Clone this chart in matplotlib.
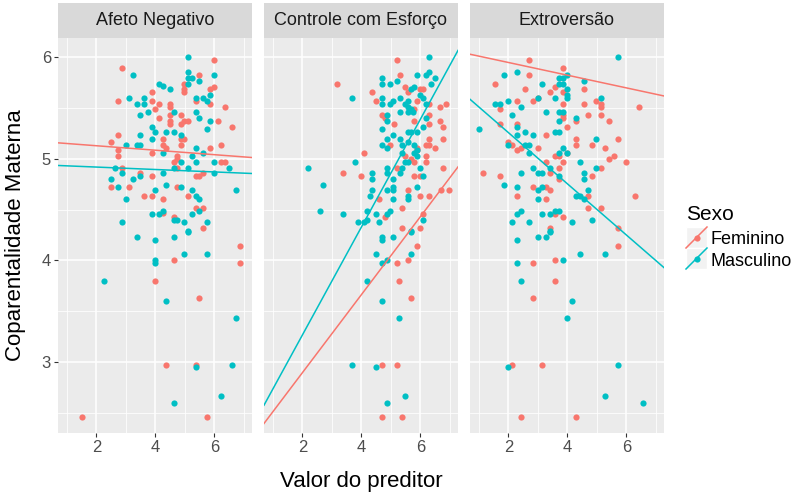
import numpy as np
import matplotlib.pyplot as plt

plt.rcParams['font.family'] = ['Liberation Sans', 'DejaVu Sans']

FEM = '#F8766D'
MASC = '#00BFC4'

paineis = ['Afeto Negativo', 'Controle com Esforço', 'Extroversão']
sexos = ['Feminino', 'Masculino']

# pontos (valor do preditor, coparentalidade)
afeto_fem = [
    (5.99, 5.97), (2.87, 5.89), (5.49, 5.83), (4.99, 5.74), (4.99, 5.69), (4.99, 5.66),
    (5.99, 5.71), (5.86, 5.69), (3.88, 5.66), (2.75, 5.57), (3.88, 5.57), (4.12, 5.54),
    (5.37, 5.57), (5.86, 5.54), (6.37, 5.51), (4.50, 5.54), (4.50, 5.51), (4.00, 5.49),
    (4.50, 5.43), (4.12, 5.40), (4.87, 5.43), (4.50, 5.37), (4.50, 5.34), (4.87, 5.34),
    (4.99, 5.37), (5.11, 5.37), (6.12, 5.37), (6.61, 5.31), (2.75, 5.23), (2.50, 5.17),
    (4.25, 5.20), (4.87, 5.20), (4.99, 5.20), (4.25, 5.14), (4.37, 5.11), (4.87, 5.14),
    (6.24, 5.14), (5.86, 5.11), (2.75, 5.09), (2.75, 5.03), (3.88, 5.06), (4.75, 5.03),
    (4.75, 5.00), (4.62, 4.97), (4.75, 4.91), (6.24, 4.97), (6.37, 4.97), (2.87, 4.91),
    (3.49, 4.86), (3.88, 4.83), (5.37, 4.83), (5.49, 4.83), (5.62, 4.86), (2.50, 4.72),
    (3.12, 4.72), (4.75, 4.72), (3.63, 4.63), (3.88, 4.63), (4.25, 4.60), (5.11, 4.63),
    (5.37, 4.52), (5.62, 4.52), (4.62, 4.43), (5.62, 4.32), (4.25, 4.47),
    (6.87, 4.14), (4.62, 4.00), (6.87, 3.97), (4.00, 3.80), (5.49, 3.63), (4.37, 2.97),
    (5.37, 2.97), (1.50, 2.46), (5.74, 2.46)]
afeto_masc = [
    (5.11, 6.00), (3.25, 5.83), (5.11, 5.86), (5.11, 5.80), (5.24, 5.80), (5.99, 5.83),
    (5.49, 5.77), (5.11, 5.74), (4.12, 5.74), (4.25, 5.72), (4.50, 5.69), (5.37, 5.60),
    (5.62, 5.60), (5.74, 5.57), (5.86, 5.63), (3.12, 5.60), (3.62, 5.60), (3.38, 5.54),
    (3.62, 5.54), (5.37, 5.46), (5.49, 5.40), (5.86, 5.37), (5.74, 5.29), (3.75, 5.46),
    (3.49, 5.43), (4.62, 5.46), (3.88, 5.31), (4.00, 5.26), (4.37, 5.26), (4.62, 5.26),
    (3.49, 5.23), (3.88, 5.20), (4.87, 5.23), (2.99, 5.14), (3.38, 5.14), (3.49, 5.14),
    (5.37, 5.11), (4.25, 5.06), (5.62, 5.06), (5.24, 5.03), (4.87, 4.97), (5.37, 4.97),
    (5.99, 4.97), (2.62, 4.91), (2.87, 4.86), (4.62, 4.91), (5.11, 4.91), (4.25, 4.86),
    (3.49, 4.83), (5.99, 4.86), (6.50, 4.91), (2.50, 4.80), (3.24, 4.80), (2.75, 4.72),
    (4.37, 4.74), (4.87, 4.72), (6.75, 4.69), (4.00, 4.69), (5.24, 4.69), (5.37, 4.63),
    (5.49, 4.60), (2.99, 4.60), (4.25, 4.49), (3.88, 4.46), (4.12, 4.46), (5.24, 4.46),
    (5.49, 4.49), (4.62, 4.40), (4.75, 4.40), (2.87, 4.38), (4.99, 4.38), (5.74, 4.38),
    (5.11, 4.29), (3.38, 4.23), (4.00, 4.20), (4.62, 4.23), (5.11, 4.28), (4.99, 4.06),
    (5.74, 4.06), (4.00, 4.00), (4.00, 3.97), (2.25, 3.80), (4.37, 3.60), (6.75, 3.43),
    (5.37, 2.95), (6.61, 2.97), (6.24, 2.66), (4.62, 2.60)]

controle_fem = [
    (5.20, 5.97), (5.30, 5.83), (3.19, 5.74), (5.49, 5.71), (5.59, 5.66), (5.99, 5.69),
    (6.09, 5.69), (4.38, 5.66), (4.49, 5.57), (5.89, 5.57), (5.80, 5.49), (6.28, 5.54),
    (6.68, 5.51), (6.88, 5.54), (4.69, 5.43), (4.79, 5.40), (5.10, 5.34), (5.80, 5.37),
    (6.28, 5.43), (6.28, 5.34), (6.68, 5.37), (6.78, 5.31), (4.98, 5.14), (6.28, 5.20),
    (6.78, 5.20), (6.20, 5.14), (6.28, 5.14), (6.49, 5.11), (5.89, 5.11), (5.89, 5.09),
    (4.09, 5.06), (5.49, 5.03), (5.69, 5.00), (6.20, 5.03), (6.20, 4.97), (5.20, 4.91),
    (5.80, 4.97), (3.39, 4.86), (3.99, 4.83), (5.80, 4.83), (5.99, 4.83), (6.78, 4.91),
    (5.59, 4.69), (6.69, 4.69), (6.98, 4.69), (5.99, 4.63), (6.28, 4.63), (4.59, 4.60),
    (5.39, 4.52), (4.79, 4.43), (6.09, 4.46), (5.39, 4.32), (5.99, 4.32),
    (5.89, 4.14), (5.20, 3.97), (5.59, 4.00), (5.29, 3.80), (5.69, 3.63), (4.69, 2.97),
    (5.20, 2.97), (4.69, 2.46), (5.39, 2.46)]
controle_masc = [
    (6.28, 6.00), (4.69, 5.80), (4.69, 5.74), (4.99, 5.74), (5.20, 5.77), (5.89, 5.83),
    (6.20, 5.83), (6.28, 5.86), (6.49, 5.80), (6.38, 5.74), (3.69, 5.60), (4.69, 5.60),
    (4.69, 5.54), (4.99, 5.54), (5.06, 5.57), (5.30, 5.60), (5.59, 5.57), (5.59, 5.51),
    (5.49, 5.54), (5.69, 5.69), (5.80, 5.71), (5.99, 5.63), (6.09, 5.60), (6.20, 5.54),
    (5.30, 5.46), (5.59, 5.46), (5.69, 5.49), (5.75, 5.46), (4.88, 5.43), (4.88, 5.37),
    (4.69, 5.29), (6.20, 5.40), (6.09, 5.31), (4.88, 5.20), (5.08, 5.23), (5.30, 5.20),
    (5.59, 5.26), (5.69, 5.26), (5.89, 5.26), (4.69, 5.14), (4.88, 5.11), (5.39, 5.14),
    (5.59, 5.17), (5.80, 5.14), (5.89, 5.09), (5.39, 5.06), (5.49, 4.97), (5.59, 4.97),
    (5.80, 5.06), (5.89, 5.03), (2.18, 4.91), (3.80, 4.97), (4.88, 4.91), (4.88, 4.86),
    (5.30, 4.86), (5.39, 4.91), (5.99, 4.91), (6.09, 4.83), (4.38, 4.86), (4.38, 4.80),
    (2.69, 4.74), (5.08, 4.80), (5.08, 4.72), (5.08, 4.69), (4.88, 4.69), (5.89, 4.72),
    (4.38, 4.69), (4.29, 4.63), (5.59, 4.63), (5.59, 4.60), (5.08, 4.60), (2.59, 4.49),
    (3.39, 4.46), (4.19, 4.49), (4.49, 4.46), (4.88, 4.46), (4.98, 4.49), (3.89, 4.38),
    (4.09, 4.38), (4.19, 4.40), (4.59, 4.38), (6.09, 4.40), (5.69, 4.29),
    (4.69, 4.23), (4.69, 4.20), (5.08, 4.23), (5.69, 4.28), (4.49, 4.06), (5.69, 4.06),
    (4.69, 3.97), (4.88, 4.00), (4.19, 3.80), (4.69, 3.60), (5.29, 3.43), (3.69, 2.97),
    (4.49, 2.95), (5.49, 2.66), (4.88, 2.60)]

extro_fem = [
    (2.71, 5.97), (2.71, 5.83), (1.56, 5.74), (3.86, 5.89), (2.58, 5.69), (3.42, 5.66),
    (3.57, 5.71), (3.86, 5.66), (4.56, 5.69), (2.28, 5.57), (2.85, 5.57), (2.99, 5.60),
    (3.86, 5.54), (4.56, 5.54), (4.99, 5.57), (5.14, 5.54), (5.14, 5.51), (6.43, 5.51),
    (1.72, 5.49), (1.72, 5.34), (3.86, 5.43), (3.86, 5.40), (4.71, 5.43), (5.14, 5.43),
    (2.28, 5.34), (4.28, 5.37), (5.42, 5.37), (3.99, 5.31), (3.28, 5.23), (4.28, 5.20),
    (4.28, 5.14), (5.72, 5.20), (2.00, 5.17), (2.14, 5.14), (2.43, 5.11), (2.28, 5.09),
    (2.99, 5.11), (4.85, 5.14), (5.28, 5.11), (3.99, 5.06), (3.57, 5.03), (3.71, 5.03),
    (5.57, 5.03), (5.42, 5.00), (3.28, 4.97), (3.86, 4.97), (6.00, 4.97), (3.71, 4.91),
    (5.14, 4.91), (1.14, 4.86), (1.72, 4.83), (3.42, 4.86), (3.71, 4.80), (4.85, 4.83),
    (2.85, 4.72), (3.28, 4.72), (3.42, 4.69), (2.28, 4.63), (3.28, 4.60), (4.71, 4.63),
    (6.28, 4.63), (4.71, 4.52), (5.14, 4.52), (3.57, 4.46), (3.86, 4.43), (3.42, 4.32),
    (5.72, 4.32), (5.72, 4.14), (2.85, 3.97), (3.57, 4.00), (3.57, 3.80), (2.85, 3.63),
    (2.14, 2.97), (3.14, 2.97), (2.43, 2.46), (4.28, 2.46)]
extro_masc = [
    (5.72, 6.00), (1.85, 5.83), (2.28, 5.86), (3.14, 5.74), (3.71, 5.80), (3.86, 5.80),
    (3.99, 5.83), (3.71, 5.74), (3.86, 5.74), (4.56, 5.77), (3.99, 5.69), (3.99, 5.63),
    (3.99, 5.60), (3.57, 5.60), (2.99, 5.60), (2.00, 5.57), (1.56, 5.54), (1.72, 5.54),
    (2.43, 5.51), (5.14, 5.60), (3.28, 5.46), (2.14, 5.43), (3.71, 5.46), (3.86, 5.46),
    (3.71, 5.37), (4.28, 5.40), (0.99, 5.29), (2.28, 5.31), (2.28, 5.23), (2.58, 5.26),
    (2.85, 5.23), (3.57, 5.26), (3.71, 5.26), (4.99, 5.20), (2.00, 5.14), (2.58, 5.14),
    (2.71, 5.14), (2.71, 5.06), (3.86, 5.11), (3.71, 5.06), (3.99, 5.06), (4.43, 4.97),
    (2.85, 4.91), (3.42, 4.91), (4.99, 4.91), (2.43, 4.86), (2.99, 4.86), (3.14, 4.86),
    (4.56, 4.86), (4.56, 4.80), (3.71, 4.83), (1.85, 4.74), (2.28, 4.72), (3.14, 4.72),
    (2.99, 4.69), (4.71, 4.69), (2.99, 4.60), (4.28, 4.63), (4.43, 4.63), (4.56, 4.60),
    (2.28, 4.46), (2.43, 4.49), (3.14, 4.46), (3.42, 4.46), (3.57, 4.49), (3.71, 4.49),
    (4.85, 4.40), (2.14, 4.38), (2.71, 4.38), (4.15, 4.38), (3.42, 4.29),
    (2.28, 4.20), (2.99, 4.23), (3.28, 4.23), (3.42, 4.28), (4.43, 4.06), (5.28, 4.06),
    (2.28, 3.97), (3.86, 4.00), (2.43, 3.80), (4.15, 3.60), (3.99, 3.43), (2.00, 2.95),
    (5.72, 2.97), (5.28, 2.66), (6.56, 2.60)]

pontos = {
    'Afeto Negativo': (afeto_fem, afeto_masc),
    'Controle com Esforço': (controle_fem, controle_masc),
    'Extroversão': (extro_fem, extro_masc),
}

# retas (intercepto, inclinacao) por painel: feminino, masculino
retas_fem = [(5.173, -0.022), (2.125, 0.384), (6.074, -0.0625)]
retas_masc = [(4.943, -0.012), (2.202, 0.531), (5.763, -0.252)]

W, H = 800, 495


def caixa(l, t, r, b):
    return [l / W, 1 - b / H, (r - l) / W, (b - t) / H]


fig = plt.figure(figsize=(8, 4.95), dpi=100)

esquerdas = [58, 264, 470]
for i, nome in enumerate(paineis):
    l = esquerdas[i]
    ax = fig.add_axes(caixa(l, 38, l + 194, 433))
    ax.set_facecolor('#EBEBEB')
    ax.set_xlim(0.7, 7.28)
    ax.set_ylim(2.3, 6.19)
    ax.set_xticks([2, 4, 6])
    ax.set_xticks([1, 3, 5, 7], minor=True)
    ax.set_yticks([3, 4, 5, 6])
    ax.set_yticks([2.5, 3.5, 4.5, 5.5], minor=True)
    ax.grid(which='major', color='white', lw=1.1)
    ax.grid(which='minor', color='white', lw=0.55)
    ax.set_axisbelow(True)
    for s in ax.spines.values():
        s.set_visible(False)
    ax.tick_params(which='minor', length=0)
    ax.tick_params(which='major', length=3, width=0.8, color='#333333',
                   labelsize=12, labelcolor='#4D4D4D', pad=2)
    if i > 0:
        ax.tick_params(axis='y', left=False, labelleft=False)

    fem, masc = pontos[nome]
    fem = np.array(fem)
    masc = np.array(masc)
    ax.scatter(fem[:, 0], fem[:, 1], s=20, color=FEM, lw=0, zorder=3)
    ax.scatter(masc[:, 0], masc[:, 1], s=20, color=MASC, lw=0, zorder=3)

    b, m = retas_fem[i]
    ax.axline((0, b), slope=m, color=FEM, lw=1.1, zorder=4)
    b, m = retas_masc[i]
    ax.axline((0, b), slope=m, color=MASC, lw=1.1, zorder=4)

    sax = fig.add_axes(caixa(l, 3, l + 194, 38))
    sax.set_facecolor('#D9D9D9')
    sax.set_xticks([])
    sax.set_yticks([])
    for s in sax.spines.values():
        s.set_visible(False)
    sax.text(0.5, 0.5, nome, ha='center', va='center', fontsize=13,
             color='#1A1A1A', transform=sax.transAxes)

fig.text(361 / W, 1 - 487 / H, 'Valor do preditor', ha='center', va='baseline',
         fontsize=16)
fig.text(16 / W, 1 - 235.5 / H, 'Coparentalidade Materna', ha='center',
         va='center', rotation=90, fontsize=16)

# legenda
fig.text(686 / W, 1 - 220 / H, 'Sexo', fontsize=15, va='baseline')
lax = fig.add_axes(caixa(686, 227, 707, 269))
lax.set_xlim(0, 1)
lax.set_ylim(0, 2)
lax.axis('off')
cores = [FEM, MASC]
for k, (sexo, cor) in enumerate(zip(sexos, cores)):
    y0 = 1 - k
    lax.add_patch(plt.Rectangle((0, y0), 1, 1, facecolor='#F2F2F2',
                                edgecolor='white', lw=1))
    lax.plot([0, 1], [y0, y0 + 1], color=cor, lw=1.1, clip_on=False)
    lax.scatter([0.5], [y0 + 0.5], s=20, color=cor, lw=0, zorder=3)
    fig.text(711 / W, 1 - (244 + 22 * k) / H, sexo, fontsize=13, va='baseline')

fig.savefig('out.png', dpi=100, facecolor='white')
